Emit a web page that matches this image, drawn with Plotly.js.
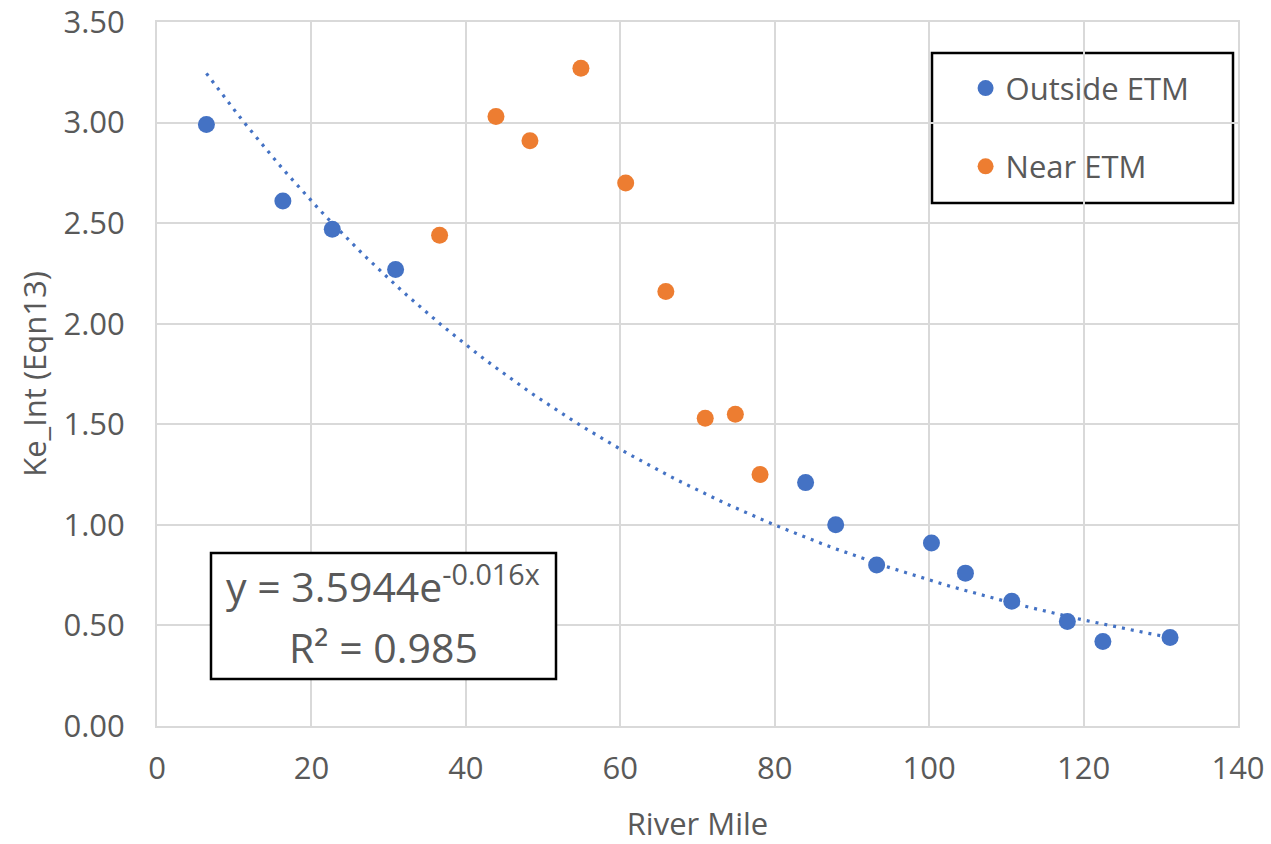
<!DOCTYPE html>
<html>
<head>
<meta charset="utf-8">
<script src="https://cdn.plot.ly/plotly-3.0.1.min.js"></script>
<style>
  html, body { margin: 0; padding: 0; background: #ffffff; }
  #chart { width: 1271px; height: 844px; }
</style>
</head>
<body>
<div id="chart"></div>
<script>
// Data
const outsideMile = [6.4, 16.3, 22.7, 30.9, 84.0, 87.9, 93.2, 100.3, 104.7, 110.7, 117.9, 122.5, 131.2];
const outsideKe   = [2.99, 2.61, 2.47, 2.27, 1.21, 1.00, 0.80, 0.91, 0.76, 0.62, 0.52, 0.42, 0.44];
const nearMile = [36.6, 43.9, 48.3, 54.9, 60.7, 65.9, 71.0, 74.9, 78.1];
const nearKe   = [2.44, 3.03, 2.91, 3.27, 2.70, 2.16, 1.53, 1.55, 1.25];
const seriesNames = ["Outside ETM", "Near ETM"];
// Exponential trendline coefficients (as printed on the chart)
const trendA = 3.5944;
const trendB = -0.016;
const trendR2 = 0.985;
const xTicks = [0, 20, 40, 60, 80, 100, 120, 140];
const yTicks = [0, 0.5, 1.0, 1.5, 2.0, 2.5, 3.0, 3.5];

// Trendline evaluated across the span of the Outside ETM series
const xMin = Math.min(...outsideMile), xMax = Math.max(...outsideMile);
const trendX = [], trendY = [];
const nSteps = 120;
for (let i = 0; i <= nSteps; i++) {
  const x = xMin + (xMax - xMin) * i / nSteps;
  trendX.push(x);
  trendY.push(trendA * Math.exp(trendB * x));
}

const BLUE = "#4472C4";
const ORANGE = "#ED7D31";
const FONT = "Open Sans, Noto Sans, sans-serif";
const GRAY = "#595959";
const GRID = "#D9D9D9";

const traces = [
  {
    x: trendX, y: trendY, type: "scatter", mode: "lines",
    line: { color: BLUE, width: 3.2, dash: "3px,6px" },
    showlegend: false, hoverinfo: "skip"
  },
  {
    x: outsideMile, y: outsideKe, type: "scatter", mode: "markers",
    name: seriesNames[0], legendgroup: "a",
    marker: { color: BLUE, size: 17 }
  },
  {
    x: nearMile, y: nearKe, type: "scatter", mode: "markers",
    name: seriesNames[1], legendgroup: "b",
    marker: { color: ORANGE, size: 17 }
  }
];

const eqLine1 = "y = " + trendA + "e<sup>" + trendB + "x</sup>";
const eqLine2 = "R² = " + trendR2;

const layout = {
  width: 1271, height: 844,
  margin: { l: 157, r: 33, t: 22, b: 118 },
  paper_bgcolor: "#ffffff", plot_bgcolor: "#ffffff",
  font: { family: FONT, color: GRAY },
  showlegend: true,
  legend: {
    x: 0.748, y: 0.944, xanchor: "left", yanchor: "top",
    bgcolor: "rgba(0,0,0,0)", borderwidth: 0,
    font: { family: FONT, size: 31, color: GRAY },
    traceorder: "grouped", tracegroupgap: 35,
    itemsizing: "trace"
  },
  xaxis: {
    range: [0, 140], tickvals: xTicks, ticktext: xTicks.map(String),
    showgrid: true, gridcolor: GRID, gridwidth: 2,
    showline: true, linecolor: GRID, linewidth: 2, mirror: true,
    zeroline: false, ticks: "",
    tickfont: { family: FONT, size: 31, color: GRAY },
    ticklabelstandoff: 14, ticklabeloverflow: "allow",
    title: { text: "River Mile", font: { family: FONT, size: 31, color: GRAY }, standoff: 28 }
  },
  yaxis: {
    range: [0, 3.5], tickvals: yTicks, ticktext: yTicks.map(v => v.toFixed(2)),
    showgrid: true, gridcolor: GRID, gridwidth: 2,
    showline: true, linecolor: GRID, linewidth: 2, mirror: true,
    zeroline: false, ticks: "",
    tickfont: { family: FONT, size: 31, color: GRAY },
    ticklabelstandoff: 24, ticklabeloverflow: "allow",
    title: { text: "Ke_Int (Eqn13)", font: { family: FONT, size: 31, color: GRAY }, standoff: 8 }
  },
  shapes: [
    { type: "rect", xref: "paper", yref: "paper",
      x0: (932 - 157) / 1081, x1: (1233 - 157) / 1081,
      y0: (726 - 203) / 704, y1: (726 - 53) / 704,
      line: { color: "#000000", width: 2.5 }, fillcolor: "rgba(255,255,255,1)", layer: "below" },
    { type: "rect", xref: "paper", yref: "paper",
      x0: (211 - 157) / 1081, x1: (556 - 157) / 1081,
      y0: (726 - 679) / 704, y1: (726 - 553) / 704,
      line: { color: "#000000", width: 2.5 }, fillcolor: "rgba(255,255,255,1)", layer: "above" }
  ],
  annotations: [
    { xref: "paper", yref: "paper",
      x: (383 - 157) / 1081, y: (726 - 584) / 704, xanchor: "center", yanchor: "middle",
      text: eqLine1, showarrow: false, align: "center",
      font: { family: FONT, size: 41, color: GRAY } },
    { xref: "paper", yref: "paper",
      x: (383 - 157) / 1081, y: (726 - 647) / 704, xanchor: "center", yanchor: "middle",
      text: eqLine2, showarrow: false, align: "center",
      font: { family: FONT, size: 41, color: GRAY } }
  ]
};

Plotly.newPlot("chart", traces, layout, { displayModeBar: false, staticPlot: true });
</script>
</body>
</html>
